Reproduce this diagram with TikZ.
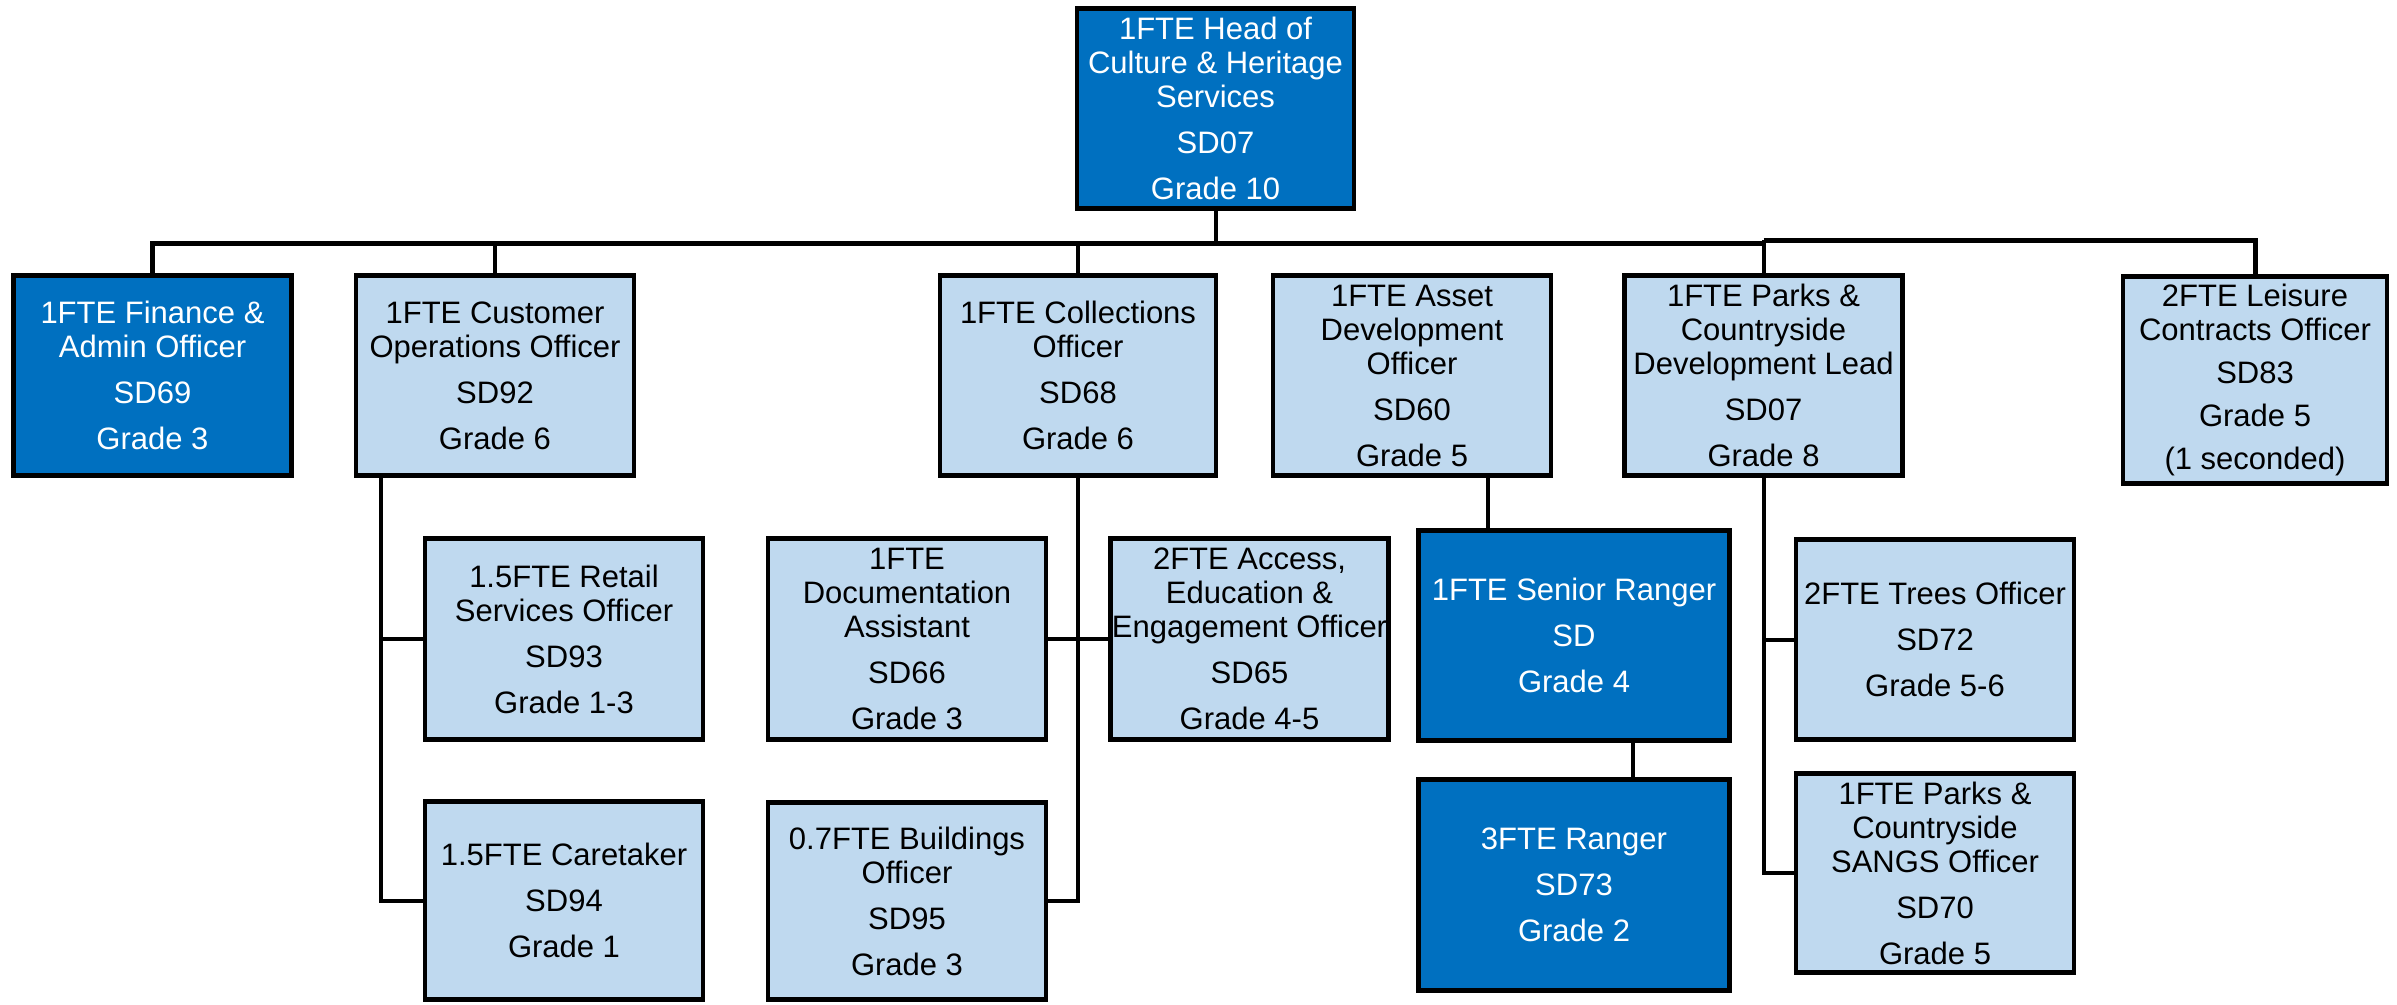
\documentclass[tikz,border=0pt]{standalone}
\usepackage{fontspec}
\setmainfont{Liberation Sans}
\definecolor{dkblue}{HTML}{0070C0}
\definecolor{ltblue}{HTML}{BFD9EF}
\tikzset{
  box/.style={draw=black, line width=4.5pt, align=center, inner sep=0pt,
    minimum width=278pt, minimum height=200pt,
    font=\fontsize{31}{34}\selectfont},
  dark/.style={box, fill=dkblue, text=white},
  light/.style={box, fill=ltblue, text=black},
  conn/.style={draw=black, line width=4pt},
}
\newcommand{\pg}{\\[12pt]}
\newcommand{\pgs}{\\[9pt]}
\begin{document}
\begin{tikzpicture}[x=1pt,y=-1pt]
\useasboundingbox (0,0) rectangle (2397,1004);
% top
\node[dark, minimum width=277pt] (head) at (1215.5,108.5) {1FTE Head of\\Culture \& Heritage\\Services\pg SD07\pg Grade 10};
% level 1
\node[dark] (fin) at (152.5,375.5) {1FTE Finance \&\\Admin Officer\pg SD69\pg Grade 3};
\node[light] (cust) at (495,375.5) {1FTE Customer\\Operations Officer\pg SD92\pg Grade 6};
\node[light, minimum width=276pt] (coll) at (1078,375.5) {1FTE Collections\\Officer\pg SD68\pg Grade 6};
\node[light] (asset) at (1412,375.5) {1FTE Asset\\Development\\Officer\pg SD60\pg Grade 5};
\node[light] (parks) at (1763.5,375.5) {1FTE Parks \&\\Countryside\\Development Lead\pg SD07\pg Grade 8};
\node[light, minimum width=264pt, minimum height=207pt] (leis) at (2255,380) {2FTE Leisure\\Contracts Officer\pgs SD83\pgs Grade 5\pgs (1 seconded)};
% level 2
\node[light, minimum height=201pt] (retail) at (564,639) {1.5FTE Retail\\Services Officer\pg SD93\pg Grade 1-3};
\node[light, minimum height=198pt] (care) at (564,900.5) {1.5FTE Caretaker\pg SD94\pg Grade 1};
\node[light, minimum height=201pt] (doc) at (907,639) {1FTE\\Documentation\\Assistant\pg SD66\pg Grade 3};
\node[light, minimum height=197pt] (bldg) at (907,901) {0.7FTE Buildings\\Officer\pg SD95\pg Grade 3};
\node[light, minimum height=201pt] (access) at (1249.5,639) {2FTE Access,\\Education \&\\Engagement Officer\pg SD65\pg Grade 4-5};
\node[dark, minimum width=311pt, minimum height=210pt] (senior) at (1574,635.5) {1FTE Senior Ranger\pg SD\pg Grade 4};
\node[dark, minimum width=311pt, minimum height=211pt] (ranger) at (1574,885) {3FTE Ranger\pg SD73\pg Grade 2};
\node[light, minimum height=200pt] (trees) at (1935,639.5) {2FTE Trees Officer\pg SD72\pg Grade 5-6};
\node[light, minimum height=199pt] (sangs) at (1935,873) {1FTE Parks \&\\Countryside\\SANGS Officer\pg SD70\pg Grade 5};
% connectors
\coordinate (bus) at (1215.5,243);
\coordinate (bus2) at (1763.5,240);
\draw[conn] (head.south) -- (bus);
\draw[conn, line width=5pt] (fin.north) |- (bus) -- (bus -| parks.north);
\draw[conn, line width=5pt] (bus2) -| (leis.north);
\draw[conn] (cust.north) -- (cust.north |- bus);
\draw[conn] (coll.north) -- (coll.north |- bus);
\draw[conn] (parks.north) -- (parks.north |- bus2);
% customer branch
\coordinate (cspine) at (381,0);
\draw[conn] (cust.south -| cspine) |- (care.west);
\draw[conn] (retail.west) -- (retail.west -| cspine);
% collections branch
\draw[conn] (coll.south) |- (bldg.east);
\draw[conn] (doc.east) -- (access.west);
% asset / rangers
\coordinate (aj) at (1488,0);
\draw[conn] (asset.south -| aj) -- (senior.north -| aj);
\coordinate (rj) at (1633,0);
\draw[conn] (senior.south -| rj) -- (ranger.north -| rj);
% parks branch
\draw[conn] (parks.south) |- (sangs.west);
\draw[conn] (trees.west) -- (trees.west -| parks.south);
\end{tikzpicture}
\end{document}
